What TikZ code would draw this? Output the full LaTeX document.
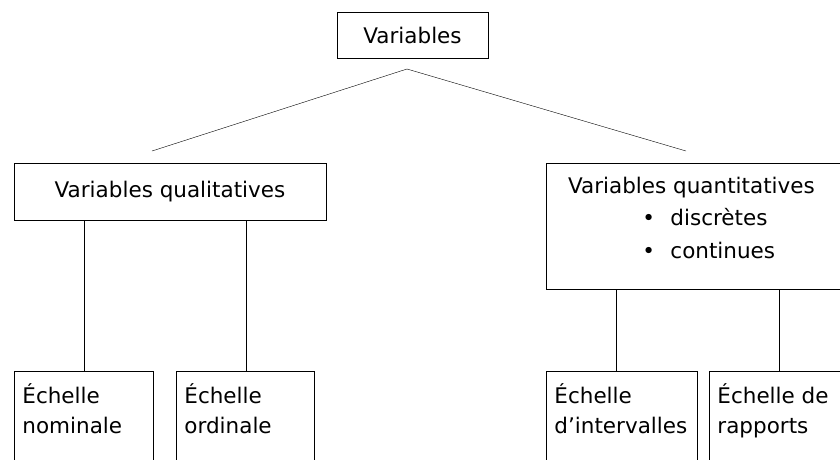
\documentclass[tikz,border=0pt]{standalone}
\usepackage{fontspec}
\setmainfont{DejaVu Sans}
\usetikzlibrary{positioning}

\tikzset{
  boite/.style={draw, line width=0.9pt, inner sep=0pt},
  echelle/.style={boite, anchor=north west, inner xsep=8pt, inner ysep=11pt,
    font=\fontsize{21.5}{30}\selectfont},
}

\begin{document}
\begin{tikzpicture}[x=1pt,y=-1pt,font=\fontsize{21.5}{30}\selectfont]
    \useasboundingbox (0,0) rectangle (840,459);
    \clip (0,0) rectangle (840,459);

    % niveau 1
    \node[boite, minimum width=151pt, minimum height=46pt] (root) at (412.5,35) {Variables};

    % niveau 2
    \node[boite, minimum width=312pt, minimum height=57pt] (quali) at (170,191.5) {Variables qualitatives};
    \node[boite, anchor=north west, inner ysep=7pt, font=\fontsize{21.5}{32.5}\selectfont] (quanti) at (546,163)
      {\parbox[t][112pt][t]{314pt}{\strut\makebox[290pt][c]{Variables quantitatives}\\
        \hspace*{96pt}\makebox[28pt][l]{•}discrètes\\
        \hspace*{96pt}\makebox[28pt][l]{•}continues}};

    % niveau 3
    \node[echelle] (nominale) at (14,371) {\parbox[t][100pt][t]{123pt}{\strut Échelle\\nominale}};
    \node[echelle] (ordinale) at (176,371) {\parbox[t][100pt][t]{122pt}{\strut Échelle\\ordinale}};
    \node[echelle] (intervalles) at (546,371) {\parbox[t][100pt][t]{135pt}{\strut Échelle\\d’intervalles}};
    \node[echelle] (rapports) at (709,371) {\parbox[t][100pt][t]{124pt}{\strut Échelle de\\rapports}};

    \coordinate (apex) at (407,69);
    \coordinate (quali-in) at (152,151);
    \coordinate (quanti-in) at (686,151);
    \draw (apex) -- (quali-in);
    \draw (apex) -- (quanti-in);

    \foreach \n/\p in {nominale/quali, ordinale/quali, intervalles/quanti, rapports/quanti}
      \draw ([xshift=70pt]\n.north west) -- ([xshift=70pt]\n.north west |- \p.south);

\end{tikzpicture}
\end{document}
